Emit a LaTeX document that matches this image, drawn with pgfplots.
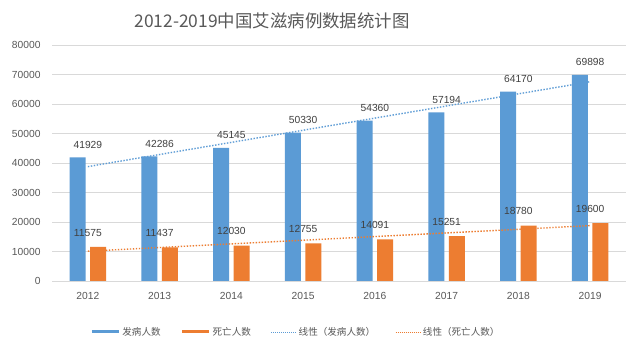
\documentclass[border=0pt]{standalone}
\usepackage{pgfplots}
\pgfplotsset{compat=1.18}
\usepackage{fontspec}
\setmainfont{Liberation Sans}
\newfontfamily\cjk{Noto Sans CJK SC}
\definecolor{cblue}{HTML}{5B9BD5}
\definecolor{corange}{HTML}{ED7D31}
\definecolor{cgrid}{HTML}{D9D9D9}
\definecolor{ctick}{HTML}{595959}
\definecolor{clabel}{HTML}{404040}
\begin{document}
\begin{tikzpicture}
\useasboundingbox (0bp,0bp) rectangle (640bp,347bp);
\fill[white] (0bp,0bp) rectangle (640bp,347bp);
\node[font=\cjk\fontsize{17.5}{20}\selectfont, text=ctick] at (272bp,326bp) {2012-2019中国艾滋病例数据统计图};
\begin{axis}[
  at={(52bp,66bp)}, anchor=south west,
  scale only axis, width=574bp, height=236bp,
  xmin=0.5, xmax=8.5, ymin=0, ymax=80000,
  ytick={0,10000,20000,30000,40000,50000,60000,70000,80000},
  xtick={1,2,3,4,5,6,7,8},
  xticklabels={2012,2013,2014,2015,2016,2017,2018,2019},
  scaled y ticks=false,
  /pgf/number format/1000 sep={},
  /pgf/number format/assume math mode=true,
  ymajorgrids, grid style={cgrid, line width=0.8bp},
  axis line style={draw=none},
  major tick length=0pt,
  tick label style={font=\fontsize{10.3}{12}\selectfont, text=ctick},
  yticklabel style={xshift=-8bp},
  xticklabel style={yshift=-8bp},
  legend style={at={(0.425,-0.216)}, anchor=center, draw=none, fill=none,
    legend columns=4, font=\cjk\fontsize{9.6}{11}\selectfont, text=ctick,
    /tikz/every even column/.append style={column sep=18bp}},
  legend cell align=left,
]
\addplot[ybar, bar width=16bp, bar shift=-10.3bp, fill=cblue, draw=none,
  nodes near coords,
  nodes near coords style={font=\fontsize{10.3}{12}\selectfont, text=clabel, yshift=5.5bp,
    /pgf/number format/fixed, /pgf/number format/precision=0, /pgf/number format/1000 sep={}},
  legend image code/.code={\draw[line width=3bp, cblue] (0bp,0bp) -- (27bp,0bp);}]
  coordinates {(1,41929) (2,42286) (3,45145) (4,50330) (5,54360) (6,57194) (7,64170) (8,69898)};
\addlegendentry{发病人数}
\addplot[ybar, bar width=16bp, bar shift=10.3bp, fill=corange, draw=none,
  nodes near coords,
  nodes near coords style={font=\fontsize{10.3}{12}\selectfont, text=clabel, yshift=7bp,
    /pgf/number format/fixed, /pgf/number format/precision=0, /pgf/number format/1000 sep={}},
  legend image code/.code={\draw[line width=3bp, corange] (0bp,0bp) -- (27bp,0bp);}]
  coordinates {(1,11575) (2,11437) (3,12030) (4,12755) (5,14091) (6,15251) (7,18780) (8,19600)};
\addlegendentry{死亡人数}
\addplot[cblue, line width=1.4bp, dash pattern=on 1.4bp off 1.6bp, mark=none,
  legend image code/.code={\draw[cblue, line width=0.8bp, dash pattern=on 1bp off 1bp] (0bp,0bp) -- (25bp,0bp);}]
  coordinates {(1,38773) (8,67555)};
\addlegendentry{线性（发病人数）}
\addplot[corange, line width=1.4bp, dash pattern=on 1.4bp off 1.6bp, mark=none,
  legend image code/.code={\draw[corange, line width=0.8bp, dash pattern=on 1bp off 1bp] (0bp,0bp) -- (25bp,0bp);}]
  coordinates {(1,10111) (8,18769)};
\addlegendentry{线性（死亡人数）}
\end{axis}
\end{tikzpicture}
\end{document}
